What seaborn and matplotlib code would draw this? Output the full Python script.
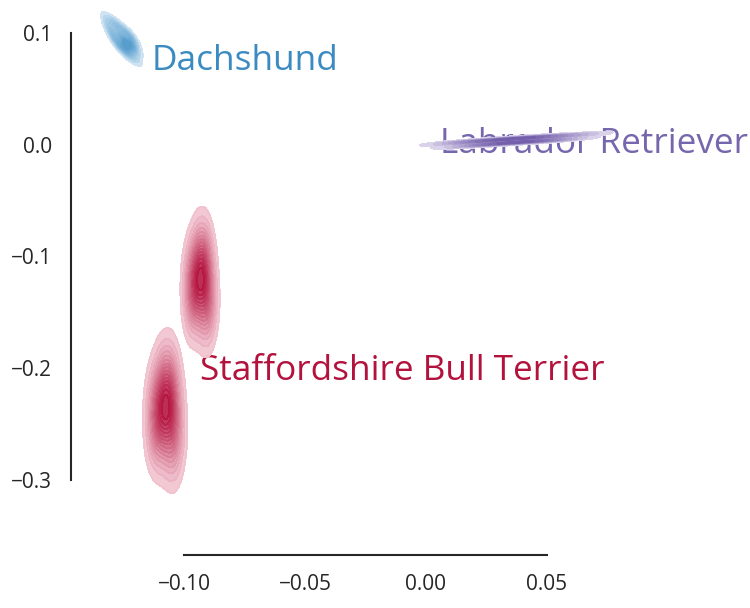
import numpy as np
import pandas as pd
import matplotlib
matplotlib.use("Agg")
import matplotlib.pyplot as plt
import seaborn as sns

# ---- data (hand-read sample points in data coordinates) ----
dach_x = [-0.13158, -0.13100, -0.12906, -0.13009, -0.12720, -0.12890,
          -0.12695, -0.12501, -0.12770, -0.12542, -0.12315, -0.12617,
          -0.12456, -0.12295, -0.12129, -0.12431, -0.12237, -0.12042,
          -0.12241, -0.11985, -0.11993, -0.12220, -0.12431]
dach_y = [0.11189, 0.10607, 0.10938, 0.10079, 0.10580, 0.09605,
          0.09936, 0.10267, 0.09130, 0.09515, 0.09900, 0.08710,
          0.08987, 0.09265, 0.09542, 0.08343, 0.08674, 0.09005,
          0.07985, 0.08423, 0.07734, 0.08925, 0.08790]

lab_x = [0.013, 0.018, 0.022, 0.026, 0.030, 0.034, 0.037, 0.040,
         0.043, 0.047, 0.051, 0.056, 0.062]
lab_y = [0.0018, -0.0008, 0.0032, 0.0006, 0.0044, 0.0016, 0.0054, 0.0026,
         0.0063, 0.0034, 0.0074, 0.0048, 0.0086]

# Staffordshire Bull Terrier: two groups of points
staff_top_x = [-0.0909, -0.09665, -0.08975, -0.0955, -0.0932, -0.09205,
               -0.09665, -0.0909, -0.09435, -0.09205]
staff_top_y = [-0.1560, -0.1465, -0.1390, -0.1318, -0.1264, -0.1216,
               -0.1162, -0.1094, -0.1017, -0.0910]
staff_bot_x = [-0.1050, -0.1115, -0.1037, -0.1102, -0.1076, -0.1063,
               -0.1115, -0.1050, -0.1089, -0.1063]
staff_bot_y = [-0.2749, -0.2633, -0.2548, -0.2474, -0.2416, -0.2364,
               -0.2306, -0.2232, -0.2147, -0.2031]

labels = ["Dachshund", "Labrador Retriever", "Staffordshire Bull Terrier"]
label_x = [-0.1132, 0.0058, -0.0934]
label_y = [0.0669, -0.0074, -0.2105]
text_colors = ["#3b8bc2", "#7566ad", "#b3123d"]

# ---- style ----
sns.set_theme(style="white")
plt.rcParams["font.family"] = ["Open Sans", "DejaVu Sans"]

fig = plt.figure(figsize=(7.5, 6.08), dpi=100)
ax = fig.add_axes([0.1133, 0.1102, 0.7133, 0.8734])

cmap_blue = sns.blend_palette(["#dbeaf6", "#509acb"], as_cmap=True)
cmap_purple = sns.blend_palette(["#e2dcef", "#6e5aa8"], as_cmap=True)
cmap_red = sns.blend_palette(["#f4cad5", "#b3123d"], as_cmap=True)

sns.kdeplot(x=dach_x, y=dach_y, fill=True, cmap=cmap_blue, levels=12,
            thresh=0.05, bw_adjust=0.9, ax=ax)
sns.kdeplot(x=lab_x, y=lab_y, fill=True, cmap=cmap_purple, levels=12,
            thresh=0.05, bw_adjust=1.0, ax=ax)
for sx, sy in ((staff_top_x, staff_top_y), (staff_bot_x, staff_bot_y)):
    sns.kdeplot(x=sx, y=sy, fill=True, cmap=cmap_red, levels=16,
                thresh=0.05, bw_adjust=1.5, alpha=0.9, ax=ax)

# hide the thin seams between filled bands
for coll in ax.collections:
    coll.set_edgecolor("face")
    coll.set_linewidth(0.6)

for t, tx, ty, c in zip(labels, label_x, label_y, text_colors):
    ax.text(tx, ty, t, color=c, fontsize=25.3, zorder=0.5)

ax.set_xlim(-0.14091, 0.08017)
ax.set_ylim(-0.35459, 0.12058)
ax.set_xticks([-0.10, -0.05, 0.00, 0.05])
ax.set_yticks([-0.3, -0.2, -0.1, 0.0, 0.1])
ax.set_xlabel("")
ax.set_ylabel("")
ax.tick_params(axis="both", length=0, labelsize=15, colors="#262626")
ax.tick_params(axis="y", pad=13.5)
ax.tick_params(axis="x", pad=14)

sns.despine(ax=ax)
ax.spines["left"].set_position(("outward", 10))
ax.spines["bottom"].set_position(("outward", 10))
ax.spines["left"].set_bounds(-0.3, 0.1)
ax.spines["bottom"].set_bounds(-0.10, 0.05)
for s in ("left", "bottom"):
    ax.spines[s].set_color("#262626")
    ax.spines[s].set_linewidth(1.5)

fig.savefig("out.png", dpi=100)
